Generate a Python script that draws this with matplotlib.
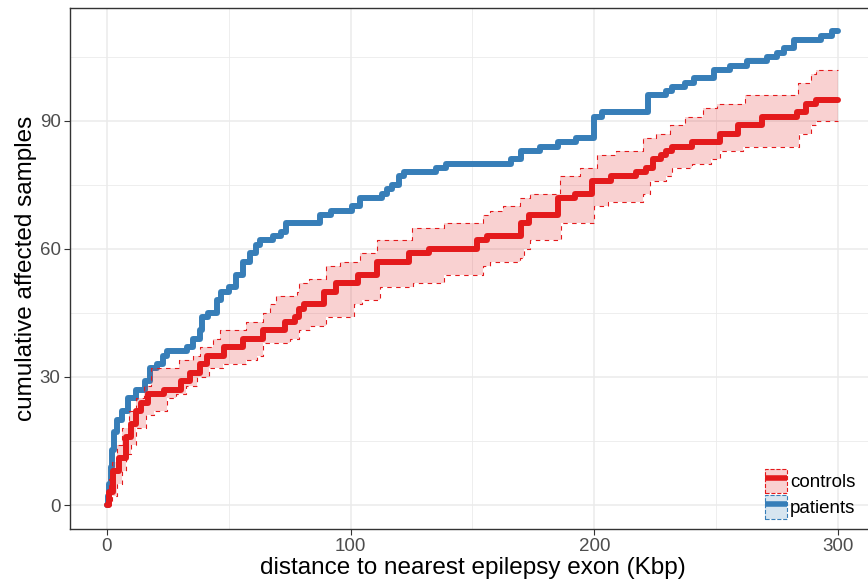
import matplotlib
matplotlib.use("Agg")
import matplotlib.pyplot as plt
from matplotlib.patches import Patch
from matplotlib.lines import Line2D
from matplotlib.legend_handler import HandlerTuple
from matplotlib.ticker import MultipleLocator

plt.rcParams['font.family'] = ['Liberation Sans', 'DejaVu Sans']

# patients: cumulative affected samples (step knots)
pat_x = [0, 0.5, 1, 1.5, 2, 3, 4, 6, 8.5, 12, 15.5, 17.5, 20.5, 23, 24.5, 33, 35.5, 38, 39, 41.5,
         45, 47, 50, 53, 56, 58.5, 61, 63, 68, 71.5, 73.5, 87.5, 92, 100.5, 104, 113, 115, 117,
         120, 122, 135, 139, 166, 170, 177.5, 185, 192.5, 200, 203, 222, 229.5, 232, 237, 241,
         249, 255.5, 262.5, 271, 275, 278, 282, 293, 297.5, 300]
pat_y = [0, 2, 5, 9, 13, 17, 20, 22, 25, 27, 29, 32, 33, 35, 36, 37, 39, 41, 44, 45,
         48, 50, 51, 54, 57, 59, 61, 62, 63, 64, 66, 68, 69, 70, 72, 73, 74, 75,
         77, 78, 79, 80, 81, 83, 84, 85, 86, 91, 92, 96, 97, 98, 99, 100,
         102, 103, 104, 105, 106, 107, 109, 110, 111, 111]

# controls: mean of permutations
ctl_x = [0, 1, 2.5, 5, 8, 10, 12, 14, 17, 23.5, 30.5, 34, 38, 41, 48, 56, 64, 73, 77, 79,
         81, 89, 94, 103, 111, 124, 132, 152, 156, 170, 173, 185, 192, 199, 207, 217, 221,
         224, 227.5, 229.5, 232, 240, 251.5, 259, 269, 283, 287, 291, 300]
ctl_y = [0, 3, 8, 11, 16, 19, 22, 24, 26, 27, 29, 31, 33, 35, 37, 39, 41, 43, 44, 46,
         47, 50, 52, 54, 57, 59, 60, 62, 63, 66, 68, 72, 73, 76, 77, 78, 79,
         81, 82, 83, 84, 85, 87, 89, 91, 92, 94, 95, 95]

# controls: upper bound
up_x = [0, 1, 2, 4, 6, 9, 12, 15, 18, 26, 29.5, 35.5, 38, 43.5, 46.5, 57, 64, 67, 69.5, 78,
        79, 83, 90, 95.5, 104, 111, 125, 138.5, 154.5, 157, 162.5, 169.5, 173.5, 186, 194,
        201, 209, 220, 225.5, 231, 237, 244.5, 250.5, 262, 283.5, 289, 291, 300]
up_y = [0, 6, 10, 14, 18, 22, 25, 28, 32, 32, 34, 35, 37, 39, 41, 43, 45, 47, 49, 50,
        52, 53, 56, 57, 59, 62, 65, 66, 68, 69, 70, 72, 73, 77, 79,
        82, 83, 86, 87, 89, 91, 93, 94, 96, 99, 101, 102, 102]

# controls: lower bound
lo_x = [0, 2, 4, 6, 8, 10, 12, 16, 19.5, 24.5, 28.5, 32.5, 37, 42, 47.5, 57, 61.5, 64, 75,
        79, 83.5, 90, 101.5, 104.5, 112, 125.5, 138.5, 154.5, 157, 169.5, 171, 173.5, 186.5,
        200, 205.5, 220, 223, 229.5, 232, 240, 248, 251.5, 261, 284, 289, 291, 300]
lo_y = [0, 2, 5, 8, 12, 14, 18, 21, 22, 25, 26, 28, 30, 32, 33, 34, 35, 38, 39,
        41, 42, 44, 47, 48, 51, 52, 54, 56, 57, 58, 60, 62, 66,
        70, 71, 73, 76, 77, 79, 80, 81, 83, 84, 87, 89, 90, 90]

red = '#E41A1C'
blue = '#377EB8'


def step_xy(xs, ys):
    px, py = [], []
    for i in range(len(xs)):
        if i > 0:
            px.append(xs[i])
            py.append(ys[i - 1])
        px.append(xs[i])
        py.append(ys[i])
    return px, py


fig = plt.figure(figsize=(8.68, 5.79), dpi=100)
ax = fig.add_axes([0.0811, 0.0869, 0.9265, 0.8998])

ax.plot(pat_x, pat_y, drawstyle='steps-post', color=blue, lw=4.3,
        solid_joinstyle='round', solid_capstyle='round', zorder=3)
ax.plot(ctl_x, ctl_y, drawstyle='steps-post', color=red, lw=4.3,
        solid_joinstyle='round', solid_capstyle='round', zorder=3)

ux, uy = step_xy(up_x, up_y)
lx, ly = step_xy(lo_x, lo_y)
ax.fill(ux + lx[::-1], uy + ly[::-1], color=red, alpha=0.2, lw=0, zorder=4)
ax.plot(ux, uy, color=red, lw=0.8, ls=(0, (4, 4)), zorder=4)
ax.plot(lx, ly, color=red, lw=0.8, ls=(0, (4, 4)), zorder=4)

ax.set_xlim(-15, 315)
ax.set_ylim(-5.55, 116.55)
ax.xaxis.set_major_locator(MultipleLocator(100))
ax.xaxis.set_minor_locator(MultipleLocator(50))
ax.yaxis.set_major_locator(MultipleLocator(30))
ax.yaxis.set_minor_locator(MultipleLocator(15))
ax.grid(which='major', color='#EBEBEB', lw=1.1, zorder=0)
ax.grid(which='minor', color='#EBEBEB', lw=0.6, zorder=0)
ax.set_axisbelow(True)
ax.tick_params(which='major', length=4, color='#333333', labelcolor='#4D4D4D', labelsize=13.5, pad=3)
ax.tick_params(which='minor', length=0)
for s in ax.spines.values():
    s.set_color('#333333')
    s.set_linewidth(1.0)

ax.set_xlabel('distance to nearest epilepsy exon (Kbp)', fontsize=17.5, labelpad=1)
ax.set_ylabel('cumulative affected samples', fontsize=17.5, labelpad=2)

h_ctl = (Patch(facecolor=red, alpha=0.2, edgecolor='none'),
         Patch(facecolor='none', edgecolor=red, ls='--', lw=0.8),
         Line2D([], [], color=red, lw=4, solid_capstyle='butt'))
h_pat = (Patch(facecolor=blue, alpha=0.2, edgecolor='none'),
         Patch(facecolor='none', edgecolor=blue, ls='--', lw=0.8),
         Line2D([], [], color=blue, lw=4, solid_capstyle='butt'))
ax.legend([h_ctl, h_pat], ['controls', 'patients'],
          handler_map={tuple: HandlerTuple(ndivide=1, pad=0)},
          loc='lower right', bbox_to_anchor=(0.995, -0.01), frameon=False, fontsize=13.5,
          handlelength=1.2, handleheight=1.6, handletextpad=0.15, labelspacing=0.1,
          borderpad=0.3)

fig.savefig('out.png', dpi=100)
